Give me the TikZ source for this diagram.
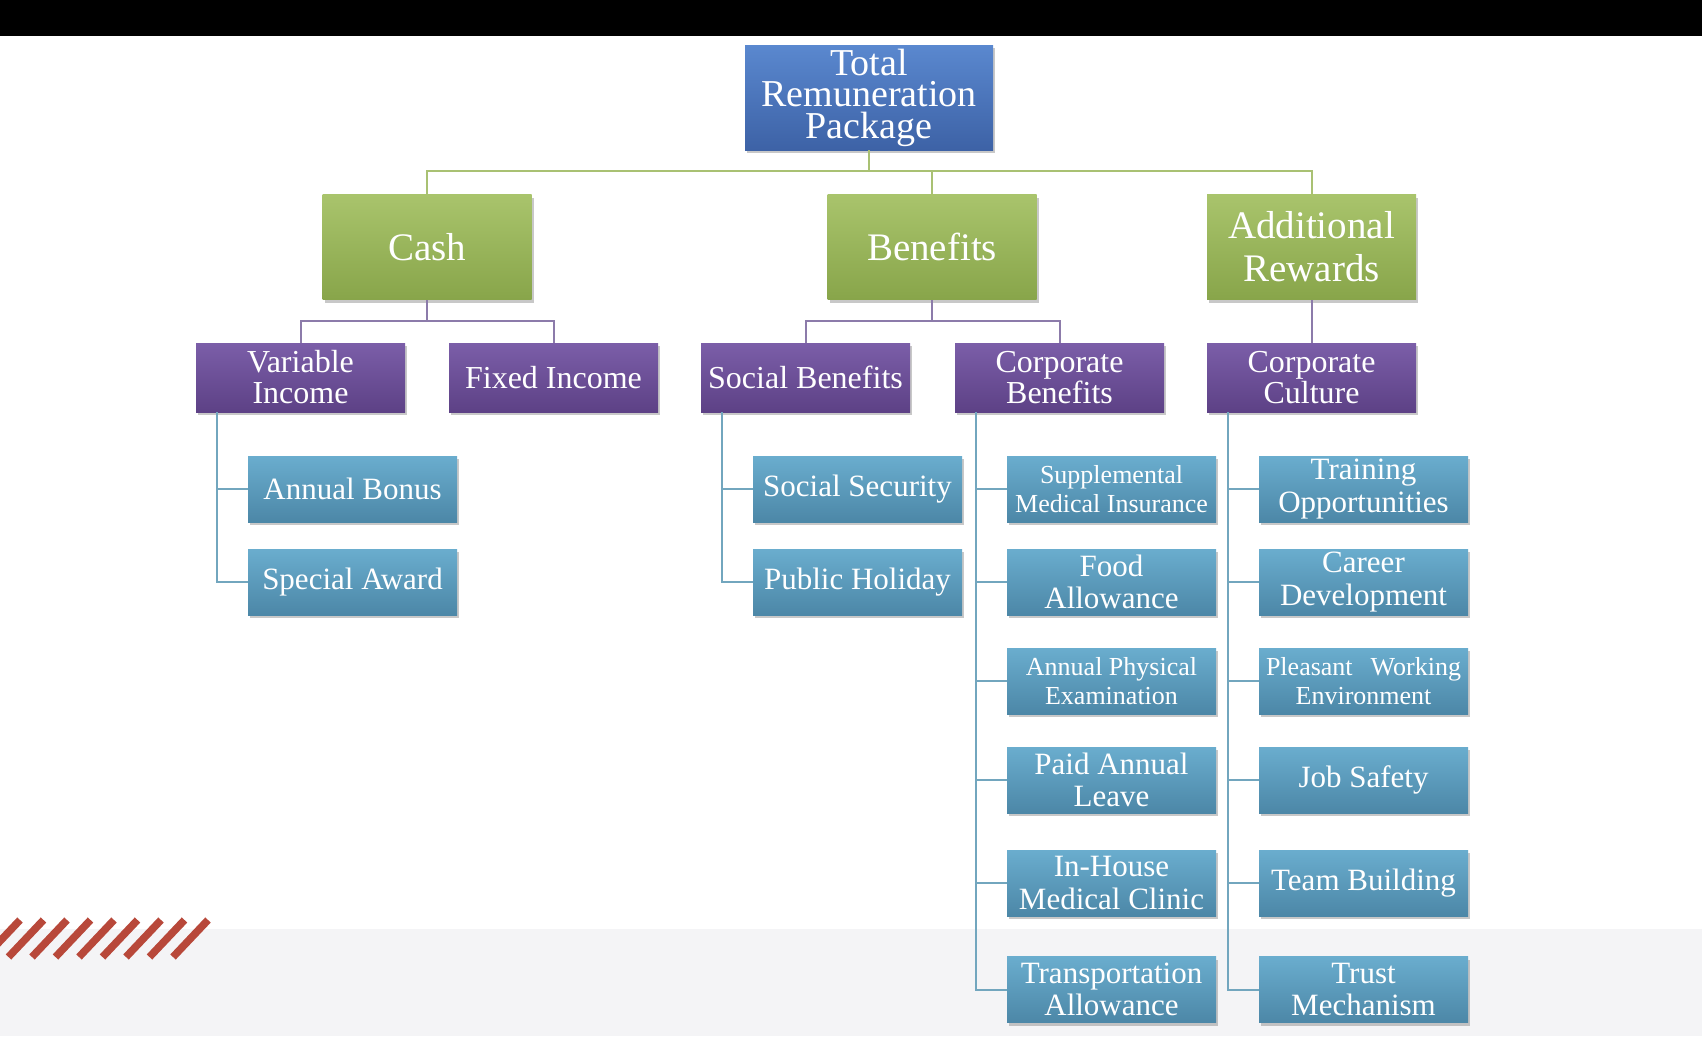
\documentclass[tikz,border=0pt]{standalone}
\usepackage{fontspec}
\setmainfont{Liberation Serif}
\newfontfamily\tnr{Liberation Serif}
\usetikzlibrary{shadows}
\definecolor{totT}{HTML}{5A88CF}
\definecolor{totB}{HTML}{3D62A6}
\definecolor{grT}{HTML}{A9C46C}
\definecolor{grB}{HTML}{88A54A}
\definecolor{puT}{HTML}{7B5EA8}
\definecolor{puB}{HTML}{5D4186}
\definecolor{tlT}{HTML}{6AADCE}
\definecolor{tlB}{HTML}{4C87A7}
\definecolor{lnG}{HTML}{A9C173}
\definecolor{lnP}{HTML}{8C7BAA}
\definecolor{lnT}{HTML}{72A6BE}
\definecolor{bandgray}{HTML}{F4F4F6}
\definecolor{stripeRed}{HTML}{B8483A}
\tikzset{
  box/.style={rectangle, minimum width=209pt, inner sep=0pt, align=center, text=white,
    drop shadow={shadow xshift=2pt, shadow yshift=-3pt, opacity=0.3, fill=black!70}},
  tot/.style={box, minimum width=248pt, minimum height=105pt, top color=totT, bottom color=totB, font=\tnr\fontsize{38}{31.5}\selectfont},
  lvone/.style={box, minimum height=105pt, top color=grT, bottom color=grB, font=\tnr\fontsize{39}{43}\selectfont},
  lvtwo/.style={box, minimum height=69pt, top color=puT, bottom color=puB, font=\tnr\fontsize{32}{31}\selectfont},
  leaf/.style={box, minimum height=66pt, top color=tlT, bottom color=tlB, font=\tnr\fontsize{31}{32.5}\selectfont},
  leafs/.style={leaf, font=\tnr\fontsize{26}{29}\selectfont},
  conA/.style={draw=lnG, line width=2pt},
  conB/.style={draw=lnP, line width=2pt},
  conC/.style={draw=lnT, line width=2pt},
  stripe/.style={draw=stripeRed, line width=7.5pt}
}
\begin{document}
\begin{tikzpicture}[x=1pt,y=-1pt]
\useasboundingbox (0,0) rectangle (1702,1036);
\fill[white] (0,0) rectangle (1702,1036);
\fill[black] (0,0) rectangle (1702,36);
\fill[bandgray] (0,929) rectangle (1702,1036);
\begin{scope}
\clip (0,900) rectangle (260,970);
\foreach \k in {0,...,8} \draw[stripe] (-15+23.5*\k,957) -- ++(35,-37);
\end{scope}

% nodes
\node[tot] (tot) at (869,97.5) {Total\\Remuneration\\Package};
\node[lvone] (cash) at (427,247) {Cash};
\node[lvone] (ben) at (932,247) {Benefits};
\node[lvone] (add) at (1311.5,247) {Additional\\Rewards};

\node[lvtwo] (var) at (300.5,377.5) {Variable\\Income};
\node[lvtwo] (fix) at (553.5,377.5) {Fixed Income};
\node[lvtwo] (soc) at (805.5,377.5) {Social Benefits};
\node[lvtwo] (cb) at (1059.5,377.5) {Corporate\\Benefits};
\node[lvtwo] (cc) at (1311.5,377.5) {Corporate\\Culture};

\node[leaf] (ab) at (352.5,489) {Annual Bonus};
\node[leaf] (sa) at (352.5,582) {Special Award};

\node[leaf] (ss) at (857.5,489) {Social Security};
\node[leaf] (ph) at (857.5,582) {Public Holiday};

\node[leafs] (smi) at (1111.5,489) {Supplemental\\Medical Insurance};
\node[leaf] (fa) at (1111.5,582) {Food\\Allowance};
\node[leafs] (ape) at (1111.5,681) {Annual Physical\\Examination};
\node[leaf] (pal) at (1111.5,780) {Paid Annual\\Leave};
\node[leaf] (ihm) at (1111.5,883) {In-House\\Medical Clinic};
\node[leaf] (ta) at (1111.5,989.5) {Transportation\\Allowance};

\node[leaf] (to) at (1363.5,489) {Training\\Opportunities};
\node[leaf] (cd) at (1363.5,582) {Career\\Development};
\node[leafs] (pwe) at (1363.5,681) {Pleasant\hspace{18pt}Working\\Environment};
\node[leaf] (js) at (1363.5,780) {Job Safety};
\node[leaf] (tb) at (1363.5,883) {Team Building};
\node[leaf] (tm) at (1363.5,989.5) {Trust\\Mechanism};

% level 1 connectors
\draw[conA] (cash.north) -- ++(0,-23) -| (tot.south);
\draw[conA] (ben.north) -- ++(0,-23) -| (tot.south);
\draw[conA] (add.north) -- ++(0,-23) -| (tot.south);

% level 2 connectors
\draw[conB] (var.north) -- ++(0,-22) -| (cash.south);
\draw[conB] (fix.north) -- ++(0,-22) -| (cash.south);
\draw[conB] (soc.north) -- ++(0,-22) -| (ben.south);
\draw[conB] (cb.north) -- ++(0,-22) -| (ben.south);
\draw[conB] (add.south) -- (cc.north);

% leaf connectors
\foreach \p/\c in {var/ab, var/sa, soc/ss, soc/ph,
  cb/smi, cb/fa, cb/ape, cb/pal, cb/ihm, cb/ta,
  cc/to, cc/cd, cc/pwe, cc/js, cc/tb, cc/tm}
  \draw[conC] ([xshift=21pt]\p.south west) |- (\c.west);
\end{tikzpicture}
\end{document}
